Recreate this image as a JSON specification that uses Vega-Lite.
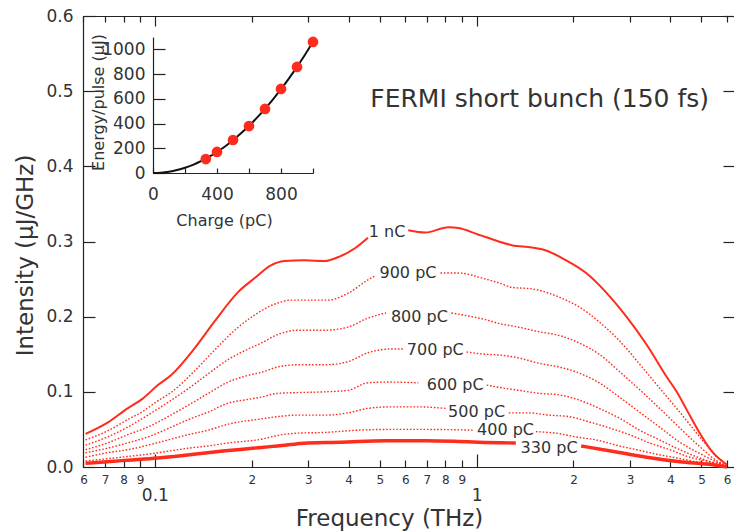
{
  "$schema": "https://vega.github.io/schema/vega-lite/v6.json",
  "width": 651,
  "height": 451,
  "autosize": {"type": "none"},
  "padding": {"left": 83, "top": 16, "right": 0, "bottom": 65},
  "config": {
    "font": "DejaVu Sans",
    "view": {"stroke": null},
    "axis": {"grid": false, "domainColor": "#222", "tickColor": "#222", "labelColor": "#333", "titleColor": "#333", "titleFontWeight": "normal", "labelFlush": false, "labelOverlap": false, "domainWidth": 1.2, "tickWidth": 1.2}
  },
  "datasets": {
    "spectra": [
      {"s":"1 nC","g":1,"f":0.0609,"v":0.044},{"s":"1 nC","g":1,"f":0.0713,"v":0.059},{"s":"1 nC","g":1,"f":0.0823,"v":0.078},{"s":"1 nC","g":1,"f":0.0917,"v":0.091},{"s":"1 nC","g":1,"f":0.1022,"v":0.109},{"s":"1 nC","g":1,"f":0.1122,"v":0.122},{"s":"1 nC","g":1,"f":0.1324,"v":0.157},{"s":"1 nC","g":1,"f":0.1529,"v":0.193},{"s":"1 nC","g":1,"f":0.1817,"v":0.233},{"s":"1 nC","g":1,"f":0.2039,"v":0.251},{"s":"1 nC","g":1,"f":0.2288,"v":0.268},{"s":"1 nC","g":1,"f":0.253,"v":0.274},{"s":"1 nC","g":1,"f":0.2922,"v":0.275},{"s":"1 nC","g":1,"f":0.3374,"v":0.274},{"s":"1 nC","g":1,"f":0.3705,"v":0.279},{"s":"1 nC","g":1,"f":0.4187,"v":0.291},{"s":"1 nC","g":1,"f":0.4596,"v":0.305},
      {"s":"1 nC","g":2,"f":0.613,"v":0.315},{"s":"1 nC","g":2,"f":0.693,"v":0.312},{"s":"1 nC","g":2,"f":0.817,"v":0.319},{"s":"1 nC","g":2,"f":0.878,"v":0.318},{"s":"1 nC","g":2,"f":1.015,"v":0.309},{"s":"1 nC","g":2,"f":1.067,"v":0.306},{"s":"1 nC","g":2,"f":1.172,"v":0.300},{"s":"1 nC","g":2,"f":1.286,"v":0.295},{"s":"1 nC","g":2,"f":1.486,"v":0.292},{"s":"1 nC","g":2,"f":1.643,"v":0.288},{"s":"1 nC","g":2,"f":1.897,"v":0.275},{"s":"1 nC","g":2,"f":2.191,"v":0.258},{"s":"1 nC","g":2,"f":2.53,"v":0.232},{"s":"1 nC","g":2,"f":2.922,"v":0.200},{"s":"1 nC","g":2,"f":3.374,"v":0.163},{"s":"1 nC","g":2,"f":3.896,"v":0.120},{"s":"1 nC","g":2,"f":4.188,"v":0.100},{"s":"1 nC","g":2,"f":4.5,"v":0.076},{"s":"1 nC","g":2,"f":4.94,"v":0.045},{"s":"1 nC","g":2,"f":5.43,"v":0.019},{"s":"1 nC","g":2,"f":6.0,"v":0.003},

      {"s":"900 pC","g":1,"f":0.0609,"v":0.036},{"s":"900 pC","g":1,"f":0.0713,"v":0.048},{"s":"900 pC","g":1,"f":0.0823,"v":0.063},{"s":"900 pC","g":1,"f":0.0917,"v":0.074},{"s":"900 pC","g":1,"f":0.1022,"v":0.088},{"s":"900 pC","g":1,"f":0.1122,"v":0.099},{"s":"900 pC","g":1,"f":0.1324,"v":0.127},{"s":"900 pC","g":1,"f":0.1529,"v":0.155},{"s":"900 pC","g":1,"f":0.1817,"v":0.186},{"s":"900 pC","g":1,"f":0.2039,"v":0.202},{"s":"900 pC","g":1,"f":0.2144,"v":0.208},{"s":"900 pC","g":1,"f":0.2405,"v":0.218},{"s":"900 pC","g":1,"f":0.2642,"v":0.222},{"s":"900 pC","g":1,"f":0.2986,"v":0.222},{"s":"900 pC","g":1,"f":0.3447,"v":0.222},{"s":"900 pC","g":1,"f":0.3979,"v":0.231},{"s":"900 pC","g":1,"f":0.4596,"v":0.249},{"s":"900 pC","g":1,"f":0.487,"v":0.255},
      {"s":"900 pC","g":2,"f":0.772,"v":0.258},{"s":"900 pC","g":2,"f":0.878,"v":0.258},{"s":"900 pC","g":2,"f":1.067,"v":0.250},{"s":"900 pC","g":2,"f":1.172,"v":0.245},{"s":"900 pC","g":2,"f":1.286,"v":0.239},{"s":"900 pC","g":2,"f":1.486,"v":0.237},{"s":"900 pC","g":2,"f":1.805,"v":0.226},{"s":"900 pC","g":2,"f":2.083,"v":0.213},{"s":"900 pC","g":2,"f":2.405,"v":0.193},{"s":"900 pC","g":2,"f":2.779,"v":0.168},{"s":"900 pC","g":2,"f":3.209,"v":0.137},{"s":"900 pC","g":2,"f":3.705,"v":0.105},{"s":"900 pC","g":2,"f":4.28,"v":0.073},{"s":"900 pC","g":2,"f":4.94,"v":0.040},{"s":"900 pC","g":2,"f":5.70,"v":0.010},{"s":"900 pC","g":2,"f":6.0,"v":0.003},

      {"s":"800 pC","g":1,"f":0.0609,"v":0.029},{"s":"800 pC","g":1,"f":0.0713,"v":0.040},{"s":"800 pC","g":1,"f":0.0823,"v":0.053},{"s":"800 pC","g":1,"f":0.0951,"v":0.069},{"s":"800 pC","g":1,"f":0.1098,"v":0.086},{"s":"800 pC","g":1,"f":0.1268,"v":0.104},{"s":"800 pC","g":1,"f":0.1465,"v":0.124},{"s":"800 pC","g":1,"f":0.1691,"v":0.143},{"s":"800 pC","g":1,"f":0.1952,"v":0.157},{"s":"800 pC","g":1,"f":0.2144,"v":0.165},{"s":"800 pC","g":1,"f":0.2405,"v":0.176},{"s":"800 pC","g":1,"f":0.2778,"v":0.182},{"s":"800 pC","g":1,"f":0.3374,"v":0.182},{"s":"800 pC","g":1,"f":0.3979,"v":0.186},{"s":"800 pC","g":1,"f":0.4596,"v":0.198},{"s":"800 pC","g":1,"f":0.523,"v":0.205},
      {"s":"800 pC","g":2,"f":0.835,"v":0.205},{"s":"800 pC","g":2,"f":0.965,"v":0.200},{"s":"800 pC","g":2,"f":1.067,"v":0.196},{"s":"800 pC","g":2,"f":1.172,"v":0.191},{"s":"800 pC","g":2,"f":1.353,"v":0.186},{"s":"800 pC","g":2,"f":1.562,"v":0.180},{"s":"800 pC","g":2,"f":1.805,"v":0.175},{"s":"800 pC","g":2,"f":2.083,"v":0.165},{"s":"800 pC","g":2,"f":2.405,"v":0.150},{"s":"800 pC","g":2,"f":2.779,"v":0.127},{"s":"800 pC","g":2,"f":3.209,"v":0.103},{"s":"800 pC","g":2,"f":3.705,"v":0.078},{"s":"800 pC","g":2,"f":4.28,"v":0.052},{"s":"800 pC","g":2,"f":4.94,"v":0.027},{"s":"800 pC","g":2,"f":5.70,"v":0.006},{"s":"800 pC","g":2,"f":6.0,"v":0.002},

      {"s":"700 pC","g":1,"f":0.0609,"v":0.023},{"s":"700 pC","g":1,"f":0.0713,"v":0.032},{"s":"700 pC","g":1,"f":0.0823,"v":0.043},{"s":"700 pC","g":1,"f":0.0951,"v":0.053},{"s":"700 pC","g":1,"f":0.1098,"v":0.067},{"s":"700 pC","g":1,"f":0.1268,"v":0.082},{"s":"700 pC","g":1,"f":0.1465,"v":0.098},{"s":"700 pC","g":1,"f":0.1691,"v":0.113},{"s":"700 pC","g":1,"f":0.1952,"v":0.122},{"s":"700 pC","g":1,"f":0.2144,"v":0.126},{"s":"700 pC","g":1,"f":0.2405,"v":0.133},{"s":"700 pC","g":1,"f":0.2778,"v":0.136},{"s":"700 pC","g":1,"f":0.3374,"v":0.136},{"s":"700 pC","g":1,"f":0.3979,"v":0.140},{"s":"700 pC","g":1,"f":0.4596,"v":0.152},{"s":"700 pC","g":1,"f":0.5425,"v":0.157},{"s":"700 pC","g":1,"f":0.5914,"v":0.157},
      {"s":"700 pC","g":2,"f":0.931,"v":0.153},{"s":"700 pC","g":2,"f":1.067,"v":0.150},{"s":"700 pC","g":2,"f":1.172,"v":0.149},{"s":"700 pC","g":2,"f":1.353,"v":0.145},{"s":"700 pC","g":2,"f":1.562,"v":0.138},{"s":"700 pC","g":2,"f":1.805,"v":0.133},{"s":"700 pC","g":2,"f":2.083,"v":0.125},{"s":"700 pC","g":2,"f":2.405,"v":0.112},{"s":"700 pC","g":2,"f":2.779,"v":0.093},{"s":"700 pC","g":2,"f":3.209,"v":0.073},{"s":"700 pC","g":2,"f":3.705,"v":0.053},{"s":"700 pC","g":2,"f":4.28,"v":0.033},{"s":"700 pC","g":2,"f":4.94,"v":0.018},{"s":"700 pC","g":2,"f":5.70,"v":0.005},{"s":"700 pC","g":2,"f":6.0,"v":0.001},

      {"s":"600 pC","g":1,"f":0.0609,"v":0.019},{"s":"600 pC","g":1,"f":0.0713,"v":0.025},{"s":"600 pC","g":1,"f":0.0823,"v":0.032},{"s":"600 pC","g":1,"f":0.0951,"v":0.040},{"s":"600 pC","g":1,"f":0.1098,"v":0.051},{"s":"600 pC","g":1,"f":0.1268,"v":0.063},{"s":"600 pC","g":1,"f":0.1465,"v":0.073},{"s":"600 pC","g":1,"f":0.1691,"v":0.085},{"s":"600 pC","g":1,"f":0.1952,"v":0.090},{"s":"600 pC","g":1,"f":0.2144,"v":0.093},{"s":"600 pC","g":1,"f":0.2405,"v":0.098},{"s":"600 pC","g":1,"f":0.2778,"v":0.099},{"s":"600 pC","g":1,"f":0.3374,"v":0.100},{"s":"600 pC","g":1,"f":0.3979,"v":0.102},{"s":"600 pC","g":1,"f":0.4596,"v":0.112},{"s":"600 pC","g":1,"f":0.531,"v":0.113},{"s":"600 pC","g":1,"f":0.659,"v":0.112},
      {"s":"600 pC","g":2,"f":1.075,"v":0.109},{"s":"600 pC","g":2,"f":1.172,"v":0.106},{"s":"600 pC","g":2,"f":1.353,"v":0.102},{"s":"600 pC","g":2,"f":1.562,"v":0.098},{"s":"600 pC","g":2,"f":1.805,"v":0.096},{"s":"600 pC","g":2,"f":2.083,"v":0.089},{"s":"600 pC","g":2,"f":2.405,"v":0.078},{"s":"600 pC","g":2,"f":2.779,"v":0.065},{"s":"600 pC","g":2,"f":3.209,"v":0.049},{"s":"600 pC","g":2,"f":3.705,"v":0.036},{"s":"600 pC","g":2,"f":4.28,"v":0.023},{"s":"600 pC","g":2,"f":4.94,"v":0.012},{"s":"600 pC","g":2,"f":5.70,"v":0.003},{"s":"600 pC","g":2,"f":6.0,"v":0.001},

      {"s":"500 pC","g":1,"f":0.0609,"v":0.013},{"s":"500 pC","g":1,"f":0.0713,"v":0.019},{"s":"500 pC","g":1,"f":0.0823,"v":0.023},{"s":"500 pC","g":1,"f":0.0951,"v":0.029},{"s":"500 pC","g":1,"f":0.1098,"v":0.036},{"s":"500 pC","g":1,"f":0.1268,"v":0.043},{"s":"500 pC","g":1,"f":0.1465,"v":0.049},{"s":"500 pC","g":1,"f":0.1691,"v":0.057},{"s":"500 pC","g":1,"f":0.2144,"v":0.064},{"s":"500 pC","g":1,"f":0.2405,"v":0.067},{"s":"500 pC","g":1,"f":0.2778,"v":0.069},{"s":"500 pC","g":1,"f":0.3374,"v":0.069},{"s":"500 pC","g":1,"f":0.3979,"v":0.072},{"s":"500 pC","g":1,"f":0.4596,"v":0.078},{"s":"500 pC","g":1,"f":0.5425,"v":0.080},{"s":"500 pC","g":1,"f":0.659,"v":0.080},{"s":"500 pC","g":1,"f":0.800,"v":0.078},
      {"s":"500 pC","g":2,"f":1.259,"v":0.072},{"s":"500 pC","g":2,"f":1.453,"v":0.072},{"s":"500 pC","g":2,"f":1.679,"v":0.069},{"s":"500 pC","g":2,"f":1.939,"v":0.067},{"s":"500 pC","g":2,"f":2.24,"v":0.060},{"s":"500 pC","g":2,"f":2.585,"v":0.052},{"s":"500 pC","g":2,"f":2.986,"v":0.043},{"s":"500 pC","g":2,"f":3.448,"v":0.032},{"s":"500 pC","g":2,"f":3.982,"v":0.023},{"s":"500 pC","g":2,"f":4.60,"v":0.013},{"s":"500 pC","g":2,"f":5.31,"v":0.007},{"s":"500 pC","g":2,"f":5.83,"v":0.003},{"s":"500 pC","g":2,"f":6.0,"v":0.001},

      {"s":"400 pC","g":1,"f":0.0609,"v":0.008},{"s":"400 pC","g":1,"f":0.0713,"v":0.011},{"s":"400 pC","g":1,"f":0.0823,"v":0.014},{"s":"400 pC","g":1,"f":0.0951,"v":0.017},{"s":"400 pC","g":1,"f":0.1098,"v":0.021},{"s":"400 pC","g":1,"f":0.1268,"v":0.025},{"s":"400 pC","g":1,"f":0.1465,"v":0.028},{"s":"400 pC","g":1,"f":0.1691,"v":0.032},{"s":"400 pC","g":1,"f":0.2144,"v":0.037},{"s":"400 pC","g":1,"f":0.2405,"v":0.042},{"s":"400 pC","g":1,"f":0.2778,"v":0.045},{"s":"400 pC","g":1,"f":0.3374,"v":0.046},{"s":"400 pC","g":1,"f":0.4277,"v":0.049},{"s":"400 pC","g":1,"f":0.5425,"v":0.050},{"s":"400 pC","g":1,"f":0.693,"v":0.050},{"s":"400 pC","g":1,"f":0.98,"v":0.049},
      {"s":"400 pC","g":2,"f":1.529,"v":0.047},{"s":"400 pC","g":2,"f":1.766,"v":0.045},{"s":"400 pC","g":2,"f":2.039,"v":0.040},{"s":"400 pC","g":2,"f":2.354,"v":0.036},{"s":"400 pC","g":2,"f":2.719,"v":0.029},{"s":"400 pC","g":2,"f":3.14,"v":0.023},{"s":"400 pC","g":2,"f":3.626,"v":0.017},{"s":"400 pC","g":2,"f":4.188,"v":0.012},{"s":"400 pC","g":2,"f":4.83,"v":0.007},{"s":"400 pC","g":2,"f":5.70,"v":0.003},{"s":"400 pC","g":2,"f":6.0,"v":0.001},

      {"s":"330 pC","g":1,"f":0.0609,"v":0.005},{"s":"330 pC","g":1,"f":0.0713,"v":0.007},{"s":"330 pC","g":1,"f":0.0823,"v":0.009},{"s":"330 pC","g":1,"f":0.1022,"v":0.012},{"s":"330 pC","g":1,"f":0.1206,"v":0.015},{"s":"330 pC","g":1,"f":0.1529,"v":0.020},{"s":"330 pC","g":1,"f":0.2144,"v":0.026},{"s":"330 pC","g":1,"f":0.2405,"v":0.028},{"s":"330 pC","g":1,"f":0.2986,"v":0.032},{"s":"330 pC","g":1,"f":0.3786,"v":0.033},{"s":"330 pC","g":1,"f":0.5197,"v":0.035},{"s":"330 pC","g":1,"f":0.693,"v":0.035},{"s":"330 pC","g":1,"f":0.878,"v":0.034},{"s":"330 pC","g":1,"f":1.015,"v":0.033},{"s":"330 pC","g":1,"f":1.324,"v":0.032},
      {"s":"330 pC","g":2,"f":2.114,"v":0.028},{"s":"330 pC","g":2,"f":2.64,"v":0.021},{"s":"330 pC","g":2,"f":3.374,"v":0.013},{"s":"330 pC","g":2,"f":4.28,"v":0.007},{"s":"330 pC","g":2,"f":5.43,"v":0.003},{"s":"330 pC","g":2,"f":6.0,"v":0.0}
    ],
    "labels": [
      {"t":"1 nC","f":0.527,"v":0.313},
      {"t":"900 pC","f":0.612,"v":0.258},
      {"t":"800 pC","f":0.664,"v":0.200},
      {"t":"700 pC","f":0.744,"v":0.156},
      {"t":"600 pC","f":0.858,"v":0.109},
      {"t":"500 pC","f":1.0,"v":0.073},
      {"t":"400 pC","f":1.23,"v":0.049},
      {"t":"330 pC","f":1.68,"v":0.025}
    ],
    "heading": [{"t":"FERMI short bunch (150 fs)","f":1.57,"v":0.49}],
    "points": [
      {"q":330,"e":113},{"q":400,"e":170},{"q":500,"e":267},{"q":600,"e":380},{"q":700,"e":518},{"q":800,"e":680},{"q":900,"e":858},{"q":1000,"e":1060}
    ],
    "fit": [
      {"q":0,"e":0},{"q":50,"e":2.65},{"q":100,"e":10.6},{"q":150,"e":23.9},{"q":200,"e":42.4},{"q":250,"e":66.3},{"q":300,"e":95.4},{"q":350,"e":129.9},{"q":400,"e":169.6},{"q":450,"e":214.7},{"q":500,"e":265},{"q":550,"e":320.7},{"q":600,"e":381.6},{"q":650,"e":447.9},{"q":700,"e":519.4},{"q":750,"e":596.3},{"q":800,"e":678.4},{"q":850,"e":765.9},{"q":900,"e":858.6},{"q":950,"e":956.7},{"q":1000,"e":1060}
    ]
  },
  "resolve": {"scale": {"x": "independent", "y": "independent"}},
  "layer": [
    {
      "data": {"name": "spectra"},
      "transform": [{"filter": "datum.s != '1 nC' && datum.s != '330 pC'"}],
      "mark": {"type": "line", "stroke": "#ff2b1c", "strokeWidth": 1.4, "strokeDash": [1.6, 1.8], "interpolate": "monotone"},
      "encoding": {
        "x": {"field": "f", "type": "quantitative", "scale": {"type": "log", "domain": [0.0598, 6.31], "nice": false},
          "axis": {"orient": "bottom", "values": [0.06,0.07,0.08,0.09,0.2,0.3,0.4,0.5,0.6,0.7,0.8,0.9,2,3,4,5,6], "labelExpr": "slice(toString(datum.value), -1)", "tickSize": -7, "labelPadding": 14, "labelFontSize": 12, "title": "Frequency (THz)", "titleFontSize": 23, "titleX": 306, "titleY": 51, "titleBaseline": "middle"}},
        "y": {"field": "v", "type": "quantitative", "scale": {"domain": [0, 0.6], "nice": false, "zero": false},
          "axis": {"orient": "left", "values": [0,0.1,0.2,0.3,0.4,0.5,0.6], "format": ".1f", "tickSize": -12, "labelPadding": 22, "labelFontSize": 17, "title": "Intensity (µJ/GHz)", "titleFontSize": 23, "titleX": -58, "titleY": 239, "titleBaseline": "middle"}},
        "detail": [{"field": "s"}, {"field": "g"}]
      }
    },
    {
      "data": {"name": "spectra"},
      "transform": [{"filter": "datum.s == '1 nC'"}],
      "mark": {"type": "line", "stroke": "#ff2b1c", "strokeWidth": 2, "interpolate": "monotone"},
      "encoding": {
        "x": {"field": "f", "type": "quantitative", "scale": {"type": "log", "domain": [0.0598, 6.31], "nice": false},
          "axis": {"orient": "bottom", "values": [0.1, 1], "format": "~g", "tickSize": -13, "labelPadding": 33, "labelFontSize": 17, "title": null}},
        "y": {"field": "v", "type": "quantitative", "scale": {"domain": [0, 0.6], "nice": false, "zero": false},
          "axis": {"orient": "right", "values": [0,0.1,0.2,0.3,0.4,0.5,0.6], "labels": false, "domain": false, "tickSize": -11, "title": null}},
        "detail": {"field": "g"}
      }
    },
    {
      "data": {"name": "spectra"},
      "transform": [{"filter": "datum.s == '330 pC'"}],
      "mark": {"type": "line", "stroke": "#ff2b1c", "strokeWidth": 3.4, "interpolate": "monotone"},
      "encoding": {
        "x": {"field": "f", "type": "quantitative", "scale": {"type": "log", "domain": [0.0598, 6.31], "nice": false},
          "axis": {"orient": "top", "values": [0.06,0.07,0.08,0.09,0.2,0.3,0.4,0.5,0.6,0.7,0.8,0.9,2,3,4,5,6], "labels": false, "tickSize": -6, "title": null}},
        "y": {"field": "v", "type": "quantitative", "scale": {"domain": [0, 0.6], "nice": false, "zero": false}, "axis": null},
        "detail": {"field": "g"}
      }
    },
    {
      "data": {"name": "labels"},
      "mark": {"type": "text", "align": "center", "baseline": "middle", "fontSize": 16, "fill": "#333"},
      "encoding": {
        "x": {"field": "f", "type": "quantitative", "scale": {"type": "log", "domain": [0.0598, 6.31], "nice": false},
          "axis": {"orient": "top", "values": [0.1, 1], "labels": false, "tickSize": -10, "title": null}},
        "y": {"field": "v", "type": "quantitative", "scale": {"domain": [0, 0.6], "nice": false, "zero": false}, "axis": null},
        "text": {"field": "t"}
      }
    },
    {
      "data": {"name": "heading"},
      "mark": {"type": "text", "align": "center", "baseline": "middle", "fontSize": 25, "fill": "#333"},
      "encoding": {
        "x": {"field": "f", "type": "quantitative", "scale": {"type": "log", "domain": [0.0598, 6.31], "nice": false}, "axis": null},
        "y": {"field": "v", "type": "quantitative", "scale": {"domain": [0, 0.6], "nice": false, "zero": false}, "axis": null},
        "text": {"field": "t"}
      }
    },
    {
      "data": {"name": "fit"},
      "mark": {"type": "line", "stroke": "#111", "strokeWidth": 2, "interpolate": "monotone"},
      "encoding": {
        "x": {"field": "q", "type": "quantitative", "scale": {"domain": [0, 1000], "range": [70, 230], "nice": false, "zero": false}, "axis": null},
        "y": {"field": "e", "type": "quantitative", "scale": {"domain": [0, 1100], "range": [157, 21], "nice": false, "zero": false}, "axis": null}
      }
    },
    {
      "data": {"name": "points"},
      "mark": {"type": "circle", "fill": "#ff2b1c", "opacity": 1, "size": 115},
      "encoding": {
        "x": {"field": "q", "type": "quantitative", "scale": {"domain": [0, 1000], "range": [70, 230], "nice": false, "zero": false},
          "axis": {"orient": "bottom", "offset": -294, "values": [0,200,400,600,800,1000], "format": "d", "labelExpr": "datum.value % 400 == 0 ? datum.label : ''", "tickSize": -5, "labelPadding": 18, "labelFontSize": 17, "title": "Charge (pC)", "titleFontSize": 16, "titleX": 141, "titleY": 47, "titleBaseline": "middle"}},
        "y": {"field": "e", "type": "quantitative", "scale": {"domain": [0, 1100], "range": [157, 21], "nice": false, "zero": false},
          "axis": {"orient": "left", "offset": -70, "values": [0,200,400,600,800,1000], "format": "d", "tickSize": -12, "labelPadding": 20, "labelFontSize": 17, "title": "Energy/pulse (µJ)", "titleFontSize": 16, "titleX": -55, "titleY": 86, "titleBaseline": "middle"}}
      }
    }
  ]
}
